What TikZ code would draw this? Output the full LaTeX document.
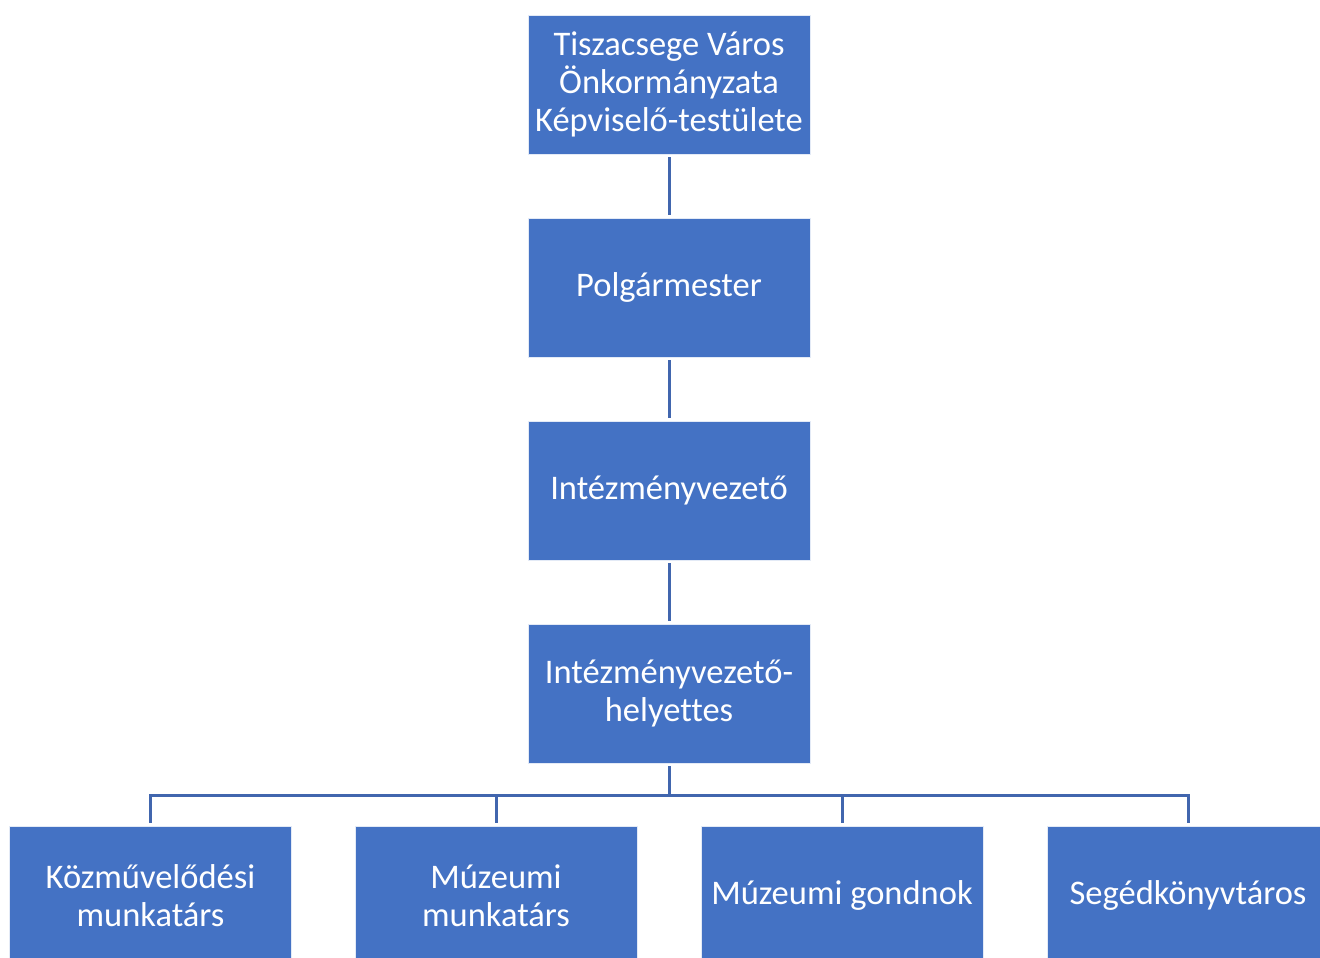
\documentclass[tikz,border=0pt]{standalone}
\usepackage{fontspec}
\setmainfont[Ligatures=NoCommon]{Carlito}
\definecolor{boxblue}{HTML}{4472C4}
\definecolor{lineblue}{HTML}{4166AE}
\begin{document}
\begin{tikzpicture}[x=1pt,y=-1pt,
  orgbox/.style={rectangle, fill=boxblue, draw=white!85!boxblue, line width=0.8pt,
    minimum width=282pt, minimum height=139pt, inner sep=0pt, text=white,
    align=center, font=\fontsize{34.5}{38}\selectfont},
  link/.style={draw=lineblue, line width=3pt}]
\useasboundingbox (0,0) rectangle (1320,958);
\node[orgbox] (top) at (669,84.5) {Tiszacsege Város\\Önkormányzata\\Képviselő-testülete};
\node[orgbox] (pm) at (669,287.5) {Polgármester};
\node[orgbox] (iv) at (669,490.5) {Intézményvezető};
\node[orgbox] (ivh) at (669,693.5) {Intézményvezető-\\helyettes};
\node[orgbox] (k1) at (150.5,895.5) {Közművelődési\\munkatárs};
\node[orgbox] (k2) at (496,895.5) {Múzeumi\\munkatárs};
\node[orgbox] (k3) at (842,895.5) {Múzeumi gondnok};
\node[orgbox] (k4) at (1188,895.5) {Segédkönyvtáros};
\draw[link, shorten >=3pt, shorten <=3pt] (top.south) -- (pm.north);
\draw[link, shorten >=3pt, shorten <=3pt] (pm.south) -- (iv.north);
\draw[link, shorten >=3pt, shorten <=3pt] (iv.south) -- (ivh.north);
\coordinate (bus) at (669,795);
\draw[link, shorten <=3pt] (ivh.south) -- (bus);
\draw[link, shorten >=3pt, line join=miter] (bus) -| (k1.north);
\draw[link, shorten >=3pt] (bus -| k2.north) -- (k2.north);
\draw[link, shorten >=3pt] (bus -| k3.north) -- (k3.north);
\draw[link, shorten >=3pt, line join=miter] (bus) -| (k4.north);
\end{tikzpicture}
\end{document}
